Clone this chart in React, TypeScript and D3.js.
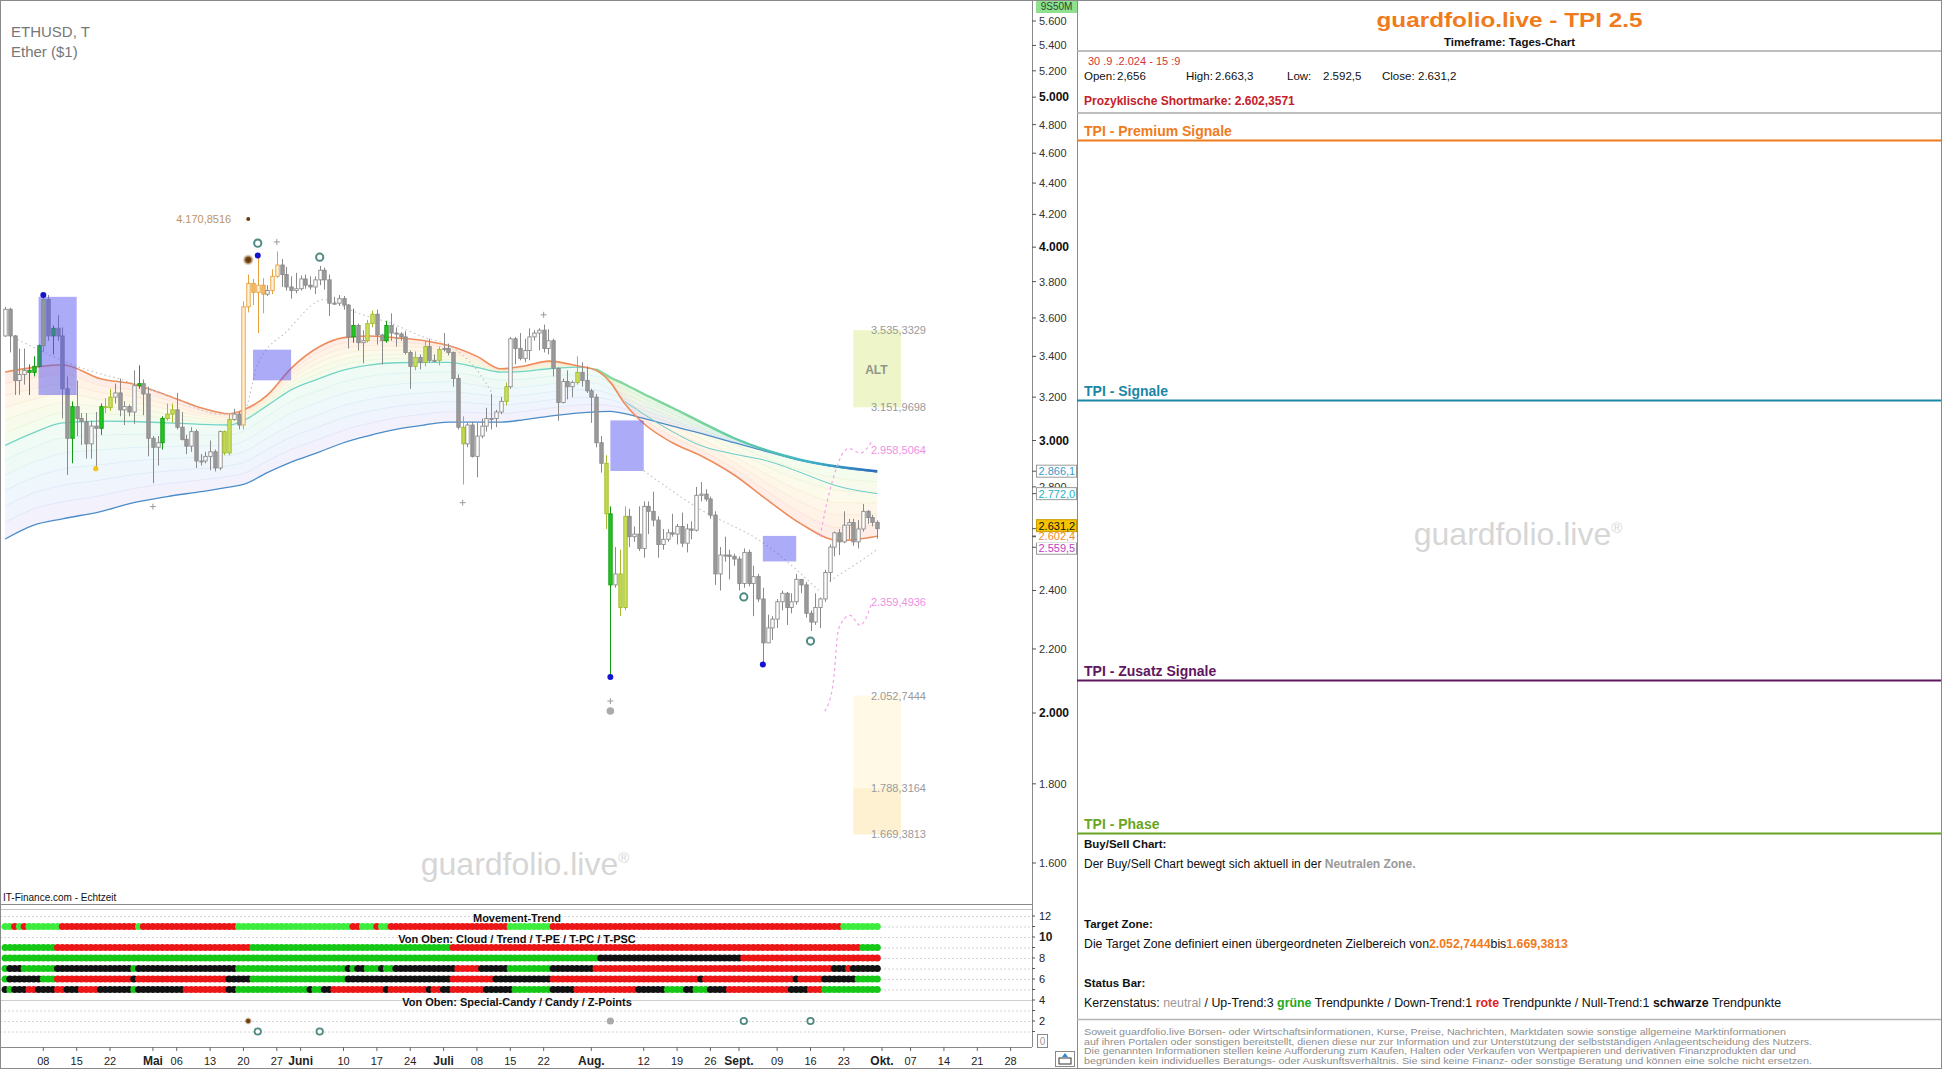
import { useEffect } from "react";
import * as d3 from "d3";

const FONT = "'Liberation Sans', Arial, Helvetica, sans-serif";
const W = 1942;
const H = 1069;

// daily ETHUSD candles, 31.03.2024 .. 30.09.2024
const opens = [
  3505, 3647, 3505, 3280, 3310, 3330, 3320, 3350, 3455, 3700, 3505, 3545, 3505, 3240, 3010, 3155, 3100, 3085, 2985, 3065,
  3055, 3155, 3150, 3200, 3220, 3140, 3155, 3130, 3255, 3265, 3215, 3010, 2970, 2990, 3100, 3120, 3140, 3060, 3005, 2975,
  3040, 2910, 2910, 2930, 2950, 2880, 3040, 2945, 3095, 3120, 3070, 3660, 3790, 3740, 3780, 3730, 3750, 3830, 3895, 3840,
  3770, 3750, 3760, 3815, 3780, 3770, 3810, 3865, 3810, 3680, 3680, 3705, 3670, 3500, 3560, 3470, 3480, 3570, 3620, 3510,
  3480, 3560, 3520, 3515, 3500, 3420, 3350, 3395, 3370, 3450, 3380, 3380, 3435, 3440, 3420, 3290, 3060, 2985, 3070, 2930,
  3020, 3065, 3100, 3100, 3130, 3180, 3250, 3490, 3440, 3390, 3430, 3500, 3520, 3535, 3440, 3480, 3340, 3175, 3275, 3250,
  3270, 3320, 3280, 3230, 3200, 2990, 2900, 2690, 2420, 2460, 2340, 2680, 2600, 2610, 2555, 2720, 2700, 2665, 2570, 2590,
  2615, 2610, 2640, 2575, 2630, 2625, 2765, 2770, 2750, 2685, 2460, 2530, 2530, 2525, 2515, 2425, 2540, 2425, 2450, 2370,
  2220, 2270, 2300, 2360, 2390, 2340, 2360, 2440, 2420, 2320, 2290, 2340, 2370, 2465, 2560, 2615, 2580, 2645, 2655, 2580,
  2630, 2700, 2675, 2656,
];
const highs = [
  3660, 3655, 3510, 3440, 3440, 3360, 3400, 3460, 3725, 3725, 3560, 3615, 3550, 3300, 3180, 3280, 3125, 3125, 3090, 3130,
  3170, 3195, 3240, 3265, 3290, 3180, 3165, 3330, 3355, 3285, 3250, 3020, 3020, 3110, 3170, 3170, 3220, 3130, 3025, 3060,
  3050, 2940, 2950, 3000, 2960, 3045, 3045, 3120, 3145, 3130, 3690, 3840, 3815, 3950, 3820, 3780, 3870, 3975, 3930, 3885,
  3830, 3850, 3835, 3840, 3830, 3830, 3890, 3880, 3840, 3715, 3725, 3720, 3675, 3650, 3570, 3535, 3590, 3640, 3645, 3515,
  3585, 3625, 3550, 3525, 3530, 3430, 3425, 3410, 3480, 3490, 3410, 3450, 3520, 3465, 3425, 3310, 3110, 3080, 3085, 3080,
  3100, 3150, 3215, 3140, 3200, 3270, 3500, 3500, 3520, 3490, 3545, 3535, 3545, 3565, 3540, 3490, 3345, 3290, 3330, 3280,
  3400, 3370, 3350, 3240, 3215, 3020, 2935, 2720, 2560, 2550, 2720, 2710, 2640, 2720, 2740, 2740, 2780, 2680, 2630, 2630,
  2690, 2650, 2695, 2650, 2660, 2800, 2820, 2790, 2760, 2700, 2560, 2600, 2550, 2535, 2525, 2555, 2550, 2490, 2460, 2410,
  2315, 2310, 2370, 2400, 2395, 2390, 2460, 2440, 2430, 2330, 2390, 2375, 2475, 2570, 2620, 2630, 2700, 2670, 2670, 2665,
  2730, 2705, 2685, 2663.3,
];
const lows = [
  3500, 3420, 3210, 3210, 3260, 3210, 3300, 3345, 3420, 3480, 3410, 3480, 3100, 2850, 2900, 3020, 2980, 2920, 2920, 2870,
  3025, 3125, 3135, 3170, 3110, 3070, 3110, 3075, 3240, 3115, 2930, 2815, 2890, 2960, 3090, 3080, 3050, 3000, 2940, 2950,
  2880, 2890, 2900, 2870, 2865, 2870, 2935, 2935, 3090, 3050, 3050, 3630, 3670, 3520, 3625, 3720, 3730, 3820, 3770, 3750,
  3705, 3735, 3750, 3760, 3755, 3730, 3780, 3755, 3610, 3670, 3665, 3645, 3440, 3470, 3430, 3365, 3470, 3550, 3460, 3360,
  3470, 3480, 3450, 3480, 3410, 3240, 3330, 3335, 3350, 3370, 3370, 3355, 3425, 3405, 3250, 3050, 2810, 2970, 2925, 2840,
  3010, 3040, 3050, 3060, 3120, 3160, 3240, 3360, 3380, 3370, 3380, 3480, 3430, 3420, 3410, 3300, 3090, 3170, 3190, 3200,
  3260, 3250, 3220, 3080, 2970, 2860, 2630, 2110, 2410, 2310, 2330, 2560, 2580, 2545, 2520, 2610, 2640, 2520, 2550, 2580,
  2600, 2570, 2560, 2540, 2590, 2620, 2740, 2740, 2670, 2420, 2400, 2505, 2440, 2490, 2400, 2410, 2415, 2310, 2360, 2150,
  2220, 2230, 2270, 2330, 2280, 2320, 2350, 2390, 2305, 2260, 2280, 2270, 2360, 2430, 2525, 2530, 2575, 2590, 2565, 2555,
  2620, 2650, 2640, 2592.5,
];
const closes = [
  3647, 3505, 3280, 3310, 3330, 3320, 3350, 3455, 3700, 3505, 3545, 3505, 3240, 3010, 3155, 3100, 3085, 2985, 3065, 3055,
  3155, 3150, 3200, 3220, 3140, 3155, 3130, 3255, 3265, 3215, 3010, 2970, 2990, 3100, 3120, 3140, 3060, 3005, 2975, 3040,
  2910, 2910, 2930, 2950, 2880, 3040, 2945, 3095, 3120, 3070, 3660, 3790, 3740, 3780, 3730, 3750, 3830, 3895, 3840, 3770,
  3750, 3760, 3815, 3780, 3770, 3810, 3865, 3810, 3680, 3680, 3705, 3670, 3500, 3560, 3470, 3480, 3570, 3620, 3510, 3480,
  3560, 3520, 3515, 3500, 3420, 3350, 3395, 3370, 3450, 3380, 3380, 3435, 3440, 3420, 3290, 3060, 2985, 3070, 2930, 3020,
  3065, 3100, 3100, 3130, 3180, 3250, 3490, 3440, 3390, 3430, 3500, 3520, 3535, 3440, 3480, 3340, 3175, 3275, 3250, 3270,
  3320, 3280, 3230, 3200, 2990, 2900, 2690, 2420, 2460, 2340, 2680, 2600, 2610, 2555, 2720, 2700, 2665, 2570, 2590, 2615,
  2610, 2640, 2575, 2630, 2625, 2765, 2770, 2750, 2685, 2460, 2530, 2530, 2525, 2515, 2425, 2540, 2425, 2450, 2370, 2220,
  2270, 2300, 2360, 2390, 2340, 2360, 2440, 2420, 2320, 2290, 2340, 2370, 2465, 2560, 2615, 2580, 2645, 2655, 2580, 2630,
  2700, 2675, 2656, 2631.2,
];
// candle signal colour per day (n neutral, g green, y lime, o orange), as runs
const candleTone: [string, number][] = [
  ["n", 5], ["g", 3], ["y", 1], ["n", 1], ["g", 1], ["n", 3], ["g", 1], ["n", 5], ["g", 1], ["y", 2],
  ["n", 5], ["g", 1], ["n", 4], ["g", 1], ["y", 2], ["n", 10], ["y", 2], ["n", 2], ["o", 5], ["n", 1],
  ["o", 2], ["n", 15], ["g", 1], ["n", 2], ["y", 2], ["n", 2], ["g", 1], ["n", 5], ["y", 1], ["n", 1],
  ["y", 1], ["n", 2], ["y", 1], ["n", 4], ["y", 1], ["n", 8], ["y", 1], ["n", 14], ["y", 1], ["n", 5],
  ["y", 1], ["g", 1], ["n", 1], ["y", 2], ["n", 53],
];

// moving average ribbon (sampled days)
const ribbonDays = [0, 6, 12, 20, 27, 34, 41, 47, 50, 55, 60, 66, 71, 76, 82, 88, 93, 99, 104, 109, 114, 120, 124, 127, 130, 134, 140, 146, 153, 160, 167, 175, 183];
const emaFast = [3322, 3345, 3358, 3289, 3262, 3208, 3150, 3122, 3140, 3210, 3340, 3450, 3496, 3505, 3495, 3480, 3455, 3400, 3338, 3352, 3376, 3353, 3330, 3271, 3170, 3077, 2990, 2933, 2850, 2745, 2650, 2585, 2602];
const emaMid = [2978, 3035, 3080, 3088, 3086, 3080, 3073, 3070, 3090, 3160, 3235, 3290, 3331, 3355, 3368, 3370, 3370, 3345, 3321, 3325, 3338, 3346, 3335, 3295, 3262, 3215, 3150, 3083, 3010, 2955, 2915, 2885, 2866];
const emaSlow = [2591, 2645, 2670, 2699, 2735, 2760, 2780, 2799, 2810, 2860, 2905, 2950, 2990, 3020, 3050, 3070, 3083, 3083, 3083, 3095, 3110, 3125, 3131, 3133, 3122, 3100, 3065, 3032, 2990, 2950, 2912, 2882, 2862];
// thin teal average after the August drop
const tealDays = [130, 140, 146, 153, 160, 167, 174, 183];
const emaTeal = [3180, 3040, 2977, 2940, 2910, 2860, 2807, 2772];

// dotted trailing line segments
const trailDaysA = [0, 7, 15, 25, 35, 45, 50, 53, 59, 67, 74, 81, 88, 93, 99, 102];
const trailValsA = [3520, 3434, 3350, 3280, 3200, 3120, 3130, 3361, 3527, 3700, 3626, 3571, 3497, 3457, 3331, 3226];
const trailDaysB = [134, 145, 160, 171];
const trailValsB = [2868, 2718, 2564, 2396];
const trailDaysC = [173, 178, 183];
const trailValsC = [2435, 2490, 2551];

// projection paths (pink)
const projUpperDays = [171, 173, 177, 179.5, 182];
const projUpperVals = [2600, 2780, 2965, 2945, 3000];
const projLowerDays = [172, 173.8, 174.9, 177.3, 179.4, 181.9];
const projLowerVals = [2005, 2095, 2268, 2313, 2279, 2358];

// signal boxes (day from, day to, price low, price high)
const boxDayFrom = [7, 52, 127, 159];
const boxDayTo = [15, 60, 134, 166];
const boxLow = [3210, 3281, 2867, 2506];
const boxHigh = [3715, 3434, 3091, 2603];

// zones
const zoneDays = [178, 188];
const altZone = [3151.9698, 3535.3329];
const targetZone = [1669.3813, 1788.3164, 2052.7444];
const projLevels = [2958.5064, 2359.4936];

// markers
const blueDotDays = [8, 53, 127, 159];
const blueDotVals = [3725, 3950, 2110, 2150];
const ringDays = [53, 66, 155, 169];
const ringVals = [4024, 3941, 2377, 2226];
const plusDays = [31, 57, 96, 113, 127];
const plusVals = [2719, 4031, 2735, 3617, 2036];
const specialDay = 51;
const specialVal = 3925;
const peakMarkDay = 51;
const peakMarkVal = 4170.8516;
const grayDotDay = 127;
const grayDotVal = 2006;
const yellowDotDay = 19;
const yellowDotVal = 2877;

// right axis live labels (drawn back to front)
const liveVals = [2559.5, 2602.4, 2631.2, 2772.0, 2866.1];

// status bar rows (runs of g/r/k per day)
const movementTrend: [string, number][] = [["g", 2], ["r", 1], ["g", 1], ["r", 1], ["g", 7], ["r", 16], ["g", 1], ["r", 20], ["g", 24], ["r", 2], ["g", 3], ["r", 1], ["g", 2], ["r", 25], ["g", 9], ["r", 61], ["g", 8]];
const cloudRow: [string, number][] = [["g", 11], ["r", 41], ["g", 42], ["r", 86], ["g", 4]];
const trendRow: [string, number][] = [["g", 125], ["k", 30], ["r", 29]];
const tpeRow: [string, number][] = [["g", 1], ["k", 3], ["g", 7], ["k", 16], ["g", 1], ["k", 21], ["g", 23], ["k", 1], ["g", 1], ["k", 2], ["g", 3], ["k", 1], ["g", 2], ["k", 13], ["r", 5], ["k", 6], ["g", 9], ["k", 9], ["r", 50], ["k", 3], ["r", 1], ["k", 6]];
const tpcRow: [string, number][] = [["g", 1], ["k", 7], ["g", 3], ["r", 16], ["k", 1], ["r", 19], ["k", 5], ["g", 20], ["k", 22], ["r", 9], ["k", 12], ["r", 31], ["k", 1], ["r", 19], ["k", 1], ["r", 5], ["k", 7], ["g", 5]];
const tpscRow: [string, number][] = [["k", 1], ["g", 1], ["k", 3], ["r", 2], ["k", 4], ["r", 2], ["k", 3], ["r", 4], ["k", 7], ["g", 1], ["k", 10], ["r", 9], ["k", 2], ["g", 15], ["k", 1], ["g", 2], ["k", 2], ["r", 11], ["k", 1], ["r", 8], ["k", 1], ["r", 2], ["k", 2], ["r", 7], ["k", 6], ["g", 8], ["k", 5], ["r", 13], ["k", 6], ["g", 4], ["k", 2], ["g", 3], ["k", 4], ["r", 13], ["k", 4], ["r", 3], ["g", 12]];
const statusLevels = [11, 9, 8, 7, 6, 5];
const zRingDays2 = [155, 169];
const zRingDays1 = [53, 66];

// x axis
const tickDates = ["2024-04-08", "2024-04-15", "2024-04-22", "2024-05-01", "2024-05-06", "2024-05-13", "2024-05-20", "2024-05-27", "2024-06-01", "2024-06-10", "2024-06-17", "2024-06-24", "2024-07-01", "2024-07-08", "2024-07-15", "2024-07-22", "2024-08-01", "2024-08-12", "2024-08-19", "2024-08-26", "2024-09-01", "2024-09-09", "2024-09-16", "2024-09-23", "2024-10-01", "2024-10-07", "2024-10-14", "2024-10-21", "2024-10-28"];
const tickLabels = ["08", "15", "22", "Mai", "06", "13", "20", "27", "Juni", "10", "17", "24", "Juli", "08", "15", "22", "Aug.", "12", "19", "26", "Sept.", "09", "16", "23", "Okt.", "07", "14", "21", "28"];
const indicatorTicks = [12, 10, 8, 6, 4, 2];

const disclaimer = [
  "Soweit guardfolio.live Börsen- oder Wirtschaftsinformationen, Kurse, Preise, Nachrichten, Marktdaten sowie sonstige allgemeine Marktinformationen",
  "auf ihren Portalen oder sonstigen bereitstellt, dienen diese nur zur Information und zur Unterstützung der selbstständigen Anlageentscheidung des Nutzers.",
  "Die genannten Informationen stellen keine Aufforderung zum Kaufen, Halten oder Verkaufen von Wertpapieren und derivativen Finanzprodukten dar und",
  "begründen kein individuelles Beratungs- oder Auskunftsverhältnis. Sie sind keine Finanz- oder sonstige Beratung und können eine solche nicht ersetzen.",
];
const disclaimerWidths = [702, 728, 712, 728];

const expand = (runs: [string, number][]) => runs.flatMap(([c, n]) => Array(n).fill(c) as string[]);
const fmtDE = (v: number, dec: number) => {
  const s = v.toFixed(dec);
  const [a, b] = s.split(".");
  const int = a.replace(/\B(?=(\d{3})+(?!\d))/g, ".");
  return b ? `${int},${b}` : int;
};

const t0 = Date.UTC(2024, 2, 31);
const dayDate = (i: number) => new Date(t0 + i * 864e5);

export default function App() {
  useEffect(() => {
    document.body.style.margin = "0";
  }, []);

  const x = d3.scaleUtc().domain([dayDate(0), dayDate(215)]).range([5.2, 1029.7]);
  const xd = (i: number) => x(dayDate(i));
  const y = d3.scaleLog().domain([1600, 5600]).range([863, 21]);
  const yi = d3.scaleLinear().domain([0, 12]).range([1042, 916]);

  const tones = expand(candleTone);
  const toneStyle: Record<string, { stroke: string; up: string; down: string }> = {
    n: { stroke: "#8a8a8a", up: "#ffffff", down: "#9a9a9a" },
    g: { stroke: "#129a12", up: "#22c822", down: "#22c822" },
    y: { stroke: "#a2bb2c", up: "#cadf5c", down: "#c2d94e" },
    o: { stroke: "#e6a03c", up: "#fff0d8", down: "#f2bd6a" },
  };

  // ribbon
  const N = 6;
  const lineGen = (vals: number[], days: number[]) =>
    d3.line<number>().x((_, k) => xd(days[k])).y((v) => y(v)).curve(d3.curveMonotoneX)(vals) || "";
  const areaGen = (lo: number[], hi: number[]) =>
    d3
      .area<number>()
      .x((_, k) => xd(ribbonDays[k]))
      .y0((_, k) => y(lo[k]))
      .y1((_, k) => y(hi[k]))
      .curve(d3.curveMonotoneX)(lo) || "";
  const blend = (a: number[], b: number[], t: number) => a.map((v, k) => v + (b[k] - v) * t);
  const upperCol = d3.interpolateRgbBasis(["#ffd2c0", "#fff2c4", "#e0f7d0"]);
  const lowerCol = d3.interpolateRgbBasis(["#d6f5e2", "#d2ecfa", "#dcdaf8"]);
  const upperLineCol = d3.interpolateRgbBasis(["#f6b8a0", "#f2e0a8", "#c8ecb8"]);
  const lowerLineCol = d3.interpolateRgbBasis(["#b4eadc", "#b4dcf4", "#c4c4f2"]);
  const ribbon: JSX.Element[] = [];
  for (let k = 0; k < N; k++) {
    const a1 = blend(emaFast, emaMid, k / N);
    const b1 = blend(emaFast, emaMid, (k + 1) / N);
    ribbon.push(<path key={`ua${k}`} d={areaGen(a1, b1)} fill={upperCol(k / (N - 1))} opacity={0.38} />);
    const a2 = blend(emaMid, emaSlow, k / N);
    const b2 = blend(emaMid, emaSlow, (k + 1) / N);
    ribbon.push(<path key={`la${k}`} d={areaGen(a2, b2)} fill={lowerCol(k / (N - 1))} opacity={0.38} />);
  }
  for (let k = 1; k < N; k++) {
    ribbon.push(<path key={`ul${k}`} d={lineGen(blend(emaFast, emaMid, k / N), ribbonDays)} fill="none" stroke={upperLineCol(k / N)} strokeWidth={0.6} opacity={0.5} />);
    ribbon.push(<path key={`ll${k}`} d={lineGen(blend(emaMid, emaSlow, k / N), ribbonDays)} fill="none" stroke={lowerLineCol(k / N)} strokeWidth={0.6} opacity={0.5} />);
  }
  const lateStart = ribbonDays.indexOf(124);
  const midLate = lineGen(emaMid.slice(lateStart), ribbonDays.slice(lateStart));

  const statusRows = [movementTrend, cloudRow, trendRow, tpeRow, tpcRow, tpscRow].map(expand);
  const statusColor = (c: string, row: number) =>
    c === "g" ? (row === 0 ? "#3ded3d" : "#16c816") : c === "r" ? "#ec1616" : "#111111";

  const liveStyle: Record<string, { text: string; bg: string; border: string; dy: number }> = {
    "2866.1": { text: "#3a98c8", bg: "#ffffff", border: "#9a9a9a", dy: 0 },
    "2772": { text: "#22b4c0", bg: "#ffffff", border: "#9a9a9a", dy: 0 },
    "2631.2": { text: "#111111", bg: "#f5c400", border: "#c89a00", dy: -3 },
    "2602.4": { text: "#f08a30", bg: "#ffffff", border: "#ffffff", dy: 0 },
    "2559.5": { text: "#c23cc2", bg: "#ffffff", border: "#9a9a9a", dy: 1 },
  };

  const yTicks = d3.range(1600, 5601, 200);
  const PX = 1077; // right panel left edge
  const PC = (PX + W) / 2;

  return (
    <div style={{ position: "absolute", left: 0, top: 0 }}>
      <svg width={W} height={H} viewBox={`0 0 ${W} ${H}`} style={{ display: "block", fontFamily: FONT }}>
        <rect x={0} y={0} width={W} height={H} fill="#fff" />
        <defs>
          <clipPath id="plot">
            <rect x={0} y={0} width={1032} height={904} />
          </clipPath>
          <radialGradient id="glow">
            <stop offset="0%" stopColor="#5a3008" />
            <stop offset="45%" stopColor="#7a4a18" />
            <stop offset="100%" stopColor="#d8c0a0" stopOpacity={0} />
          </radialGradient>
          <linearGradient id="midLateGrad" gradientUnits="userSpaceOnUse" x1={xd(124)} x2={xd(183)} y1={0} y2={0}>
            <stop offset="0%" stopColor="#8ed8a0" />
            <stop offset="40%" stopColor="#72d49a" />
            <stop offset="75%" stopColor="#3cb4c4" />
            <stop offset="100%" stopColor="#2c6cbc" />
          </linearGradient>
        </defs>

        {/* ---------- price panel ---------- */}
        <g clipPath="url(#plot)">
          {ribbon}
          <path d={lineGen(emaSlow, ribbonDays)} fill="none" stroke="#4b8cc8" strokeWidth={1.3} />
          <path d={lineGen(emaMid, ribbonDays)} fill="none" stroke="#74d4c6" strokeWidth={1.3} />
          <path d={midLate} fill="none" stroke="url(#midLateGrad)" strokeWidth={2.4} />
          <path d={lineGen(emaTeal, tealDays)} fill="none" stroke="#66cccc" strokeWidth={1} />
          <path d={lineGen(emaFast, ribbonDays)} fill="none" stroke="#ee8c5c" strokeWidth={1.6} />

          {/* dotted trailing line */}
          {[
            [trailDaysA, trailValsA],
            [trailDaysB, trailValsB],
            [trailDaysC, trailValsC],
          ].map(([ds, vs], k) => (
            <path key={k} d={lineGen(vs, ds)} fill="none" stroke="#c4c4c4" strokeWidth={1.2} strokeDasharray="1.5 3" />
          ))}

          {/* pink projections */}
          <path d={lineGen(projUpperVals, projUpperDays)} fill="none" stroke="#f2a4ea" strokeWidth={1.2} strokeDasharray="3 3" />
          <path d={lineGen(projLowerVals, projLowerDays)} fill="none" stroke="#f2a4ea" strokeWidth={1.2} strokeDasharray="3 3" />

          {/* zones */}
          <rect x={xd(zoneDays[0])} y={y(altZone[1])} width={xd(zoneDays[1]) - xd(zoneDays[0])} height={y(altZone[0]) - y(altZone[1])} fill="#eef5c8" />
          <rect x={xd(zoneDays[0])} y={y(targetZone[2])} width={xd(zoneDays[1]) - xd(zoneDays[0])} height={y(targetZone[1]) - y(targetZone[2])} fill="#fff9e6" />
          <rect x={xd(zoneDays[0])} y={y(targetZone[1])} width={xd(zoneDays[1]) - xd(zoneDays[0])} height={y(targetZone[0]) - y(targetZone[1])} fill="#fdf1d2" />
          <text x={xd(zoneDays[0]) + 23} y={(y(altZone[0]) + y(altZone[1])) / 2 + 5} fontSize={12} fontWeight="bold" fill="#8f968a" textAnchor="middle">
            ALT
          </text>
          {[...altZone, ...targetZone].map((v) => (
            <text key={v} x={926} y={y(v) + 4} fontSize={11} fill="#9a9a9a" textAnchor="end">
              {fmtDE(v, 4)}
            </text>
          ))}
          {projLevels.map((v) => (
            <text key={v} x={926} y={y(v) + 4} fontSize={11} fill="#ee90e4" textAnchor="end">
              {fmtDE(v, 4)}
            </text>
          ))}

          {/* candles */}
          {closes.map((c, i) => {
            const o = opens[i];
            const st = toneStyle[tones[i]];
            const cx = Math.round(xd(i)) + 0.5;
            const top = y(Math.max(o, c));
            const bot = y(Math.min(o, c));
            return (
              <g key={i}>
                <line x1={cx} x2={cx} y1={y(highs[i])} y2={y(lows[i])} stroke={st.stroke} strokeWidth={1} />
                <rect x={cx - 1.7} y={top} width={3.4} height={Math.max(1, bot - top)} fill={c >= o ? st.up : st.down} stroke={st.stroke} strokeWidth={0.9} />
              </g>
            );
          })}

          {/* signal boxes */}
          {boxDayFrom.map((d0, k) => (
            <rect key={k} x={xd(d0)} y={y(boxHigh[k])} width={xd(boxDayTo[k]) - xd(d0)} height={y(boxLow[k]) - y(boxHigh[k])} fill="#5050ee" opacity={0.48} />
          ))}

          {/* markers */}
          {blueDotDays.map((d, k) => (
            <circle key={k} cx={xd(d)} cy={y(blueDotVals[k])} r={3} fill="#1414d0" />
          ))}
          {ringDays.map((d, k) => (
            <circle key={k} cx={xd(d)} cy={y(ringVals[k])} r={3.6} fill="#fff" stroke="#4f8a82" strokeWidth={2} />
          ))}
          {plusDays.map((d, k) => (
            <g key={k} stroke="#9a9a9a" strokeWidth={1}>
              <line x1={xd(d) - 3} x2={xd(d) + 3} y1={y(plusVals[k])} y2={y(plusVals[k])} />
              <line x1={xd(d)} x2={xd(d)} y1={y(plusVals[k]) - 3} y2={y(plusVals[k]) + 3} />
            </g>
          ))}
          <circle cx={xd(specialDay)} cy={y(specialVal)} r={6} fill="url(#glow)" />
          <circle cx={xd(peakMarkDay)} cy={y(peakMarkVal)} r={2} fill="#6a3a10" />
          <text x={xd(peakMarkDay) - 17} y={y(peakMarkVal) + 4} fontSize={11} fill="#b89468" textAnchor="end">
            {fmtDE(peakMarkVal, 4)}
          </text>
          <circle cx={xd(grayDotDay)} cy={y(grayDotVal)} r={3.8} fill="#aaaaaa" />
          <circle cx={xd(yellowDotDay)} cy={y(yellowDotVal)} r={2.6} fill="#f2c21a" />
        </g>

        {/* titles & watermark */}
        <text x={11} y={37} fontSize={15} fill="#777">ETHUSD, T</text>
        <text x={11} y={57} fontSize={15} fill="#777">Ether ($1)</text>
        <text x={525} y={875} fontSize={32} fill="#d6d6d6" textAnchor="middle">
          guardfolio.live<tspan fontSize={15} dy={-12}>®</tspan>
        </text>
        <text x={3} y={901} fontSize={10} fill="#111">IT-Finance.com - Echtzeit</text>

        {/* price axis */}
        <line x1={1032.5} x2={1032.5} y1={0} y2={1047} stroke="#8a8a8a" />
        {yTicks.map((v) => {
          const bold = v % 1000 === 0;
          return (
            <g key={v}>
              <line x1={1032} x2={1036} y1={y(v)} y2={y(v)} stroke="#555" />
              <text x={1039} y={y(v) + 4} fontSize={bold ? 12 : 11} fontWeight={bold ? "bold" : "normal"} fill={bold ? "#111" : "#333"}>
                {fmtDE(v, 0)}
              </text>
            </g>
          );
        })}
        {liveVals.map((v) => {
          const st = liveStyle[String(v)];
          const cy = y(v) + st.dy;
          return (
            <g key={v}>
              <line x1={1032} x2={1036} y1={y(v)} y2={y(v)} stroke="#555" />
              <rect x={1036.5} y={cy - 6} width={40} height={12} fill={st.bg} stroke={st.border} strokeWidth={1} />
              <text x={1038.5} y={cy + 4} fontSize={11} fill={st.text}>
                {fmtDE(v, 1)}
              </text>
            </g>
          );
        })}
        <rect x={1036} y={0} width={41} height={13} fill="#8fe08f" />
        <text x={1056.5} y={10} fontSize={10} fill="#2a4a2a" textAnchor="middle">9S50M</text>

        {/* ---------- indicator panel ---------- */}
        <line x1={0} x2={1032} y1={904.5} y2={904.5} stroke="#8a8a8a" />
        {d3.range(1, 13).map((v) => (
          <line key={v} x1={0} x2={1032} y1={yi(v) + 0.5} y2={yi(v) + 0.5} stroke="#d4d4d4" strokeDasharray="2 2" />
        ))}
        <line x1={0} x2={1032} y1={909.5} y2={909.5} stroke="#c8c8c8" />
        <line x1={0} x2={1032} y1={1000.5} y2={1000.5} stroke="#d0d0d0" />
        <text x={517} y={922} fontSize={11} fontWeight="bold" fill="#111" textAnchor="middle">Movement-Trend</text>
        <text x={517} y={943} fontSize={11} fontWeight="bold" fill="#111" textAnchor="middle">Von Oben: Cloud / Trend / T-PE / T-PC / T-PSC</text>
        <text x={517} y={1006} fontSize={11} fontWeight="bold" fill="#111" textAnchor="middle">Von Oben: Special-Candy / Candy / Z-Points</text>
        {statusRows.map((row, r) =>
          row.map((c, i) => <circle key={`${r}-${i}`} cx={xd(i)} cy={yi(statusLevels[r])} r={3.6} fill={statusColor(c, r)} />)
        )}
        <circle cx={xd(specialDay)} cy={yi(2)} r={4} fill="url(#glow)" />
        <circle cx={xd(grayDotDay)} cy={yi(2)} r={3.6} fill="#aaaaaa" />
        {zRingDays2.map((d) => (
          <circle key={d} cx={xd(d)} cy={yi(2)} r={3.2} fill="#fff" stroke="#4f8a82" strokeWidth={1.8} />
        ))}
        {zRingDays1.map((d) => (
          <circle key={d} cx={xd(d)} cy={yi(1)} r={3.2} fill="#fff" stroke="#4f8a82" strokeWidth={1.8} />
        ))}
        {d3.range(1, 13).map((v) => (
          <line key={v} x1={1032} x2={1035} y1={yi(v)} y2={yi(v)} stroke="#555" />
        ))}
        {indicatorTicks.map((v) => (
          <text key={v} x={1039} y={yi(v) + 4} fontSize={v === 10 ? 12 : 11} fontWeight={v === 10 ? "bold" : "normal"} fill="#222">
            {v}
          </text>
        ))}
        <rect x={1037.5} y={1034.5} width={10} height={13} fill="#fff" stroke="#888" />
        <text x={1042.5} y={1045} fontSize={10} fill="#999" textAnchor="middle">0</text>

        {/* x axis */}
        <line x1={0} x2={1032} y1={1047.5} y2={1047.5} stroke="#8a8a8a" />
        {tickDates.map((s, k) => {
          const d = new Date(s + "T00:00:00Z");
          const isMonth = isNaN(+tickLabels[k]);
          return (
            <g key={s}>
              <line x1={x(d)} x2={x(d)} y1={1047} y2={1051} stroke="#666" />
              <text x={x(d)} y={1065} fontSize={isMonth ? 12 : 11} fontWeight={isMonth ? "bold" : "normal"} fill="#222" textAnchor="middle">
                {tickLabels[k]}
              </text>
            </g>
          );
        })}
        <rect x={1055.5} y={1051.5} width={19} height={15} fill="#fff" stroke="#888" />
        <rect x={1059} y={1058} width={12} height={6} fill="#fff" stroke="#333" />
        <path d="M1065 1053 L1062 1057 L1068 1057 Z" fill="#2a8ad8" />

        {/* ---------- right panel ---------- */}
        <line x1={PX + 0.5} x2={PX + 0.5} y1={0} y2={H} stroke="#8a8a8a" />
        <text x={PC} y={27} fontSize={21} fontWeight="bold" fill="#f07b1c" textAnchor="middle" textLength={266} lengthAdjust="spacingAndGlyphs">
          guardfolio.live - TPI 2.5
        </text>
        <text x={PC} y={46} fontSize={11.5} fontWeight="bold" fill="#111" textAnchor="middle">Timeframe: Tages-Chart</text>
        <line x1={PX} x2={W} y1={51} y2={51} stroke="#a8a8a8" strokeWidth={1.5} />
        <text x={1088} y={65} fontSize={11} fill="#d23636">30 .9 .2.024 - 15 :9</text>
        <g fontSize={11.5} fill="#111">
          <text x={1084} y={80}>Open:</text>
          <text x={1117} y={80}>2,656</text>
          <text x={1186} y={80}>High:</text>
          <text x={1215} y={80}>2.663,3</text>
          <text x={1287} y={80}>Low:</text>
          <text x={1323} y={80}>2.592,5</text>
          <text x={1382} y={80}>Close:</text>
          <text x={1418} y={80}>2.631,2</text>
        </g>
        <text x={1084} y={105} fontSize={12} fontWeight="bold" fill="#c4202a">
          Prozyklische Shortmarke:  2.602,3571
        </text>
        <line x1={PX} x2={W} y1={113} y2={113} stroke="#a8a8a8" strokeWidth={1.5} />

        <text x={1084} y={136} fontSize={14} fontWeight="bold" fill="#f07b1c">TPI - Premium Signale</text>
        <line x1={PX} x2={W} y1={140.5} y2={140.5} stroke="#f07b1c" strokeWidth={2} />
        <text x={1084} y={396} fontSize={14} fontWeight="bold" fill="#1b86a6">TPI - Signale</text>
        <line x1={PX} x2={W} y1={400.5} y2={400.5} stroke="#1b86a6" strokeWidth={2} />
        <text x={1084} y={676} fontSize={14} fontWeight="bold" fill="#5e1660">TPI - Zusatz Signale</text>
        <line x1={PX} x2={W} y1={680.5} y2={680.5} stroke="#5e1660" strokeWidth={2} />
        <text x={1084} y={829} fontSize={14} fontWeight="bold" fill="#6aa520">TPI - Phase</text>
        <line x1={PX} x2={W} y1={833.5} y2={833.5} stroke="#6aa520" strokeWidth={2} />

        <text x={1518} y={545} fontSize={32} fill="#d6d6d6" textAnchor="middle">
          guardfolio.live<tspan fontSize={15} dy={-12}>®</tspan>
        </text>

        <text x={1084} y={848} fontSize={11.5} fontWeight="bold" fill="#111">Buy/Sell Chart:</text>
        <text x={1084} y={868} fontSize={12} fill="#111">
          Der Buy/Sell Chart bewegt sich aktuell in der <tspan fill="#9a9a9a" fontWeight="bold">Neutralen Zone.</tspan>
        </text>
        <text x={1084} y={928} fontSize={11.5} fontWeight="bold" fill="#111">Target Zone:</text>
        <text x={1084} y={948} fontSize={12.3} fill="#111">
          Die Target Zone definiert einen übergeordneten Zielbereich von
          <tspan fill="#f07b1c" fontWeight="bold">{fmtDE(targetZone[2], 4)}</tspan>bis
          <tspan fill="#f07b1c" fontWeight="bold">{fmtDE(targetZone[0], 4)}</tspan>
        </text>
        <text x={1084} y={987} fontSize={11.5} fontWeight="bold" fill="#111">Status Bar:</text>
        <text x={1084} y={1007} fontSize={12.4} fill="#111">
          Kerzenstatus: <tspan fill="#9a9a9a">neutral</tspan>  / Up-Trend:3 <tspan fill="#1fa81f" fontWeight="bold">grüne</tspan> Trendpunkte  / Down-Trend:1 <tspan fill="#e01c1c" fontWeight="bold">rote</tspan> Trendpunkte / Null-Trend:1 <tspan fontWeight="bold">schwarze</tspan> Trendpunkte
        </text>
        <line x1={PX} x2={W} y1={1019.5} y2={1019.5} stroke="#b4b4b4" strokeWidth={1.5} />
        {disclaimer.map((s, k) => (
          <text key={k} x={1084} y={1035} dy={k * 9.6} fontSize={9.5} fill="#8e8e8e" textLength={disclaimerWidths[k]} lengthAdjust="spacingAndGlyphs">
            {s}
          </text>
        ))}

        <rect x={0.5} y={0.5} width={W - 1} height={H - 1} fill="none" stroke="#8a8a8a" />
      </svg>
    </div>
  );
}
